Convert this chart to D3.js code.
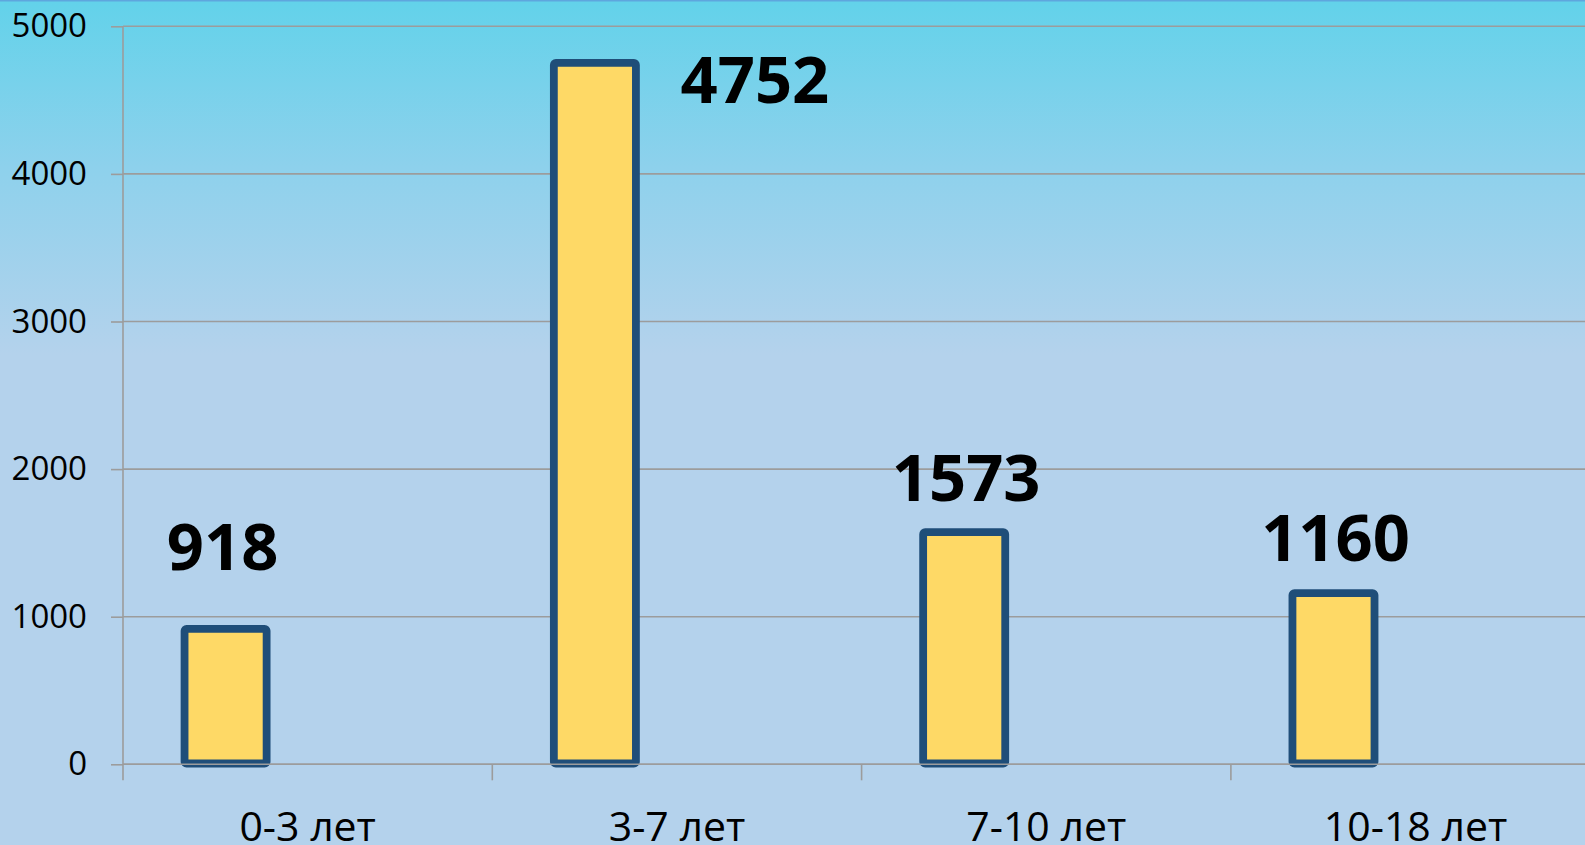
<!DOCTYPE html>
<html>
<head>
<meta charset="utf-8">
<script src="https://cdnjs.cloudflare.com/ajax/libs/d3/7.8.5/d3.min.js"></script>
<style>
  html, body { margin: 0; padding: 0; overflow: hidden; }
  svg { display: block; }
  .axis text { font-family: "Open Sans", sans-serif; fill: #000; }
  .axis path { display: none; }
</style>
</head>
<body>
<svg id="chart" width="1585" height="845"></svg>
<script>
// age groups and number of children
let categories = ["0-3 лет", "3-7 лет", "7-10 лет", "10-18 лет"];
let values = [918, 4752, 1573, 1160];
let yTicks = [0, 1000, 2000, 3000, 4000, 5000];

let W = 1585, H = 845;
let margin = {top: 26.3, left: 123},
    plotBottom = 764.3,
    bandW = 369.3;

let svg = d3.select("#chart");

// background gradient
let defs = svg.append("defs");
let grad = defs.append("linearGradient")
    .attr("id", "bg")
    .attr("x1", 0).attr("y1", 0)
    .attr("x2", 0).attr("y2", 1);
grad.append("stop").attr("offset", "0%").attr("stop-color", "#62d2ea");
grad.append("stop").attr("offset", "20%").attr("stop-color", "#8ed1ec");
grad.append("stop").attr("offset", "42%").attr("stop-color", "#b4d2ec");
grad.append("stop").attr("offset", "100%").attr("stop-color", "#b4d2ec");

svg.append("rect")
    .attr("width", W).attr("height", H)
    .attr("fill", "url(#bg)");
svg.append("rect")
    .attr("width", W).attr("height", 1.5)
    .attr("fill", "#5ea6de");

// scales
let xScale = d3.scaleBand()
    .domain(categories)
    .range([margin.left, margin.left + bandW * categories.length])
    .padding(0);

// three slots per category, only the first one is used
let inner = d3.scaleBand()
    .domain(["s1", "s2", "s3"])
    .range([0, xScale.bandwidth()])
    .paddingInner(0)
    .paddingOuter(0.75);

let yScale = d3.scaleLinear()
    .domain([0, 5000])
    .range([plotBottom, margin.top]);

// gridlines
svg.append("g")
    .selectAll("line")
    .data(yTicks)
    .join("line")
    .attr("x1", margin.left)
    .attr("x2", W)
    .attr("y1", d => yScale(d))
    .attr("y2", d => yScale(d))
    .attr("stroke", "#9c9c9c")
    .attr("stroke-width", 1.6);

// bars
svg.append("g")
    .selectAll("rect")
    .data(values)
    .join("rect")
    .attr("x", (d, i) => xScale(categories[i]) + inner("s1"))
    .attr("y", d => yScale(d))
    .attr("width", inner.bandwidth())
    .attr("height", d => plotBottom - yScale(d) - 0.8)
    .attr("rx", 2)
    .attr("fill", "#fed966")
    .attr("stroke", "#1f4e79")
    .attr("stroke-width", 7.8);

// y axis
let yAxis = svg.append("g")
    .attr("class", "axis axis-y")
    .attr("transform", "translate(" + margin.left + ",0)")
    .call(d3.axisLeft(yScale).tickValues(yTicks).tickSize(12).tickPadding(24).tickFormat(d3.format("d")));
yAxis.selectAll(".tick line").attr("stroke", "#9c9c9c").attr("stroke-width", 1.6);
yAxis.selectAll("text").style("font-size", "33px");

svg.append("line")
    .attr("x1", margin.left).attr("x2", margin.left)
    .attr("y1", margin.top).attr("y2", plotBottom + 16)
    .attr("stroke", "#9c9c9c")
    .attr("stroke-width", 1.6);

// baseline drawn over the bars
svg.append("line")
    .attr("x1", margin.left).attr("x2", W)
    .attr("y1", plotBottom).attr("y2", plotBottom)
    .attr("stroke", "#9c9c9c")
    .attr("stroke-width", 1.6);

// category separators
svg.append("g")
    .selectAll("line")
    .data(categories.slice(1))
    .join("line")
    .attr("x1", d => xScale(d))
    .attr("x2", d => xScale(d))
    .attr("y1", plotBottom)
    .attr("y2", plotBottom + 16)
    .attr("stroke", "#9c9c9c")
    .attr("stroke-width", 1.6);

// x axis labels
let xAxis = svg.append("g")
    .attr("class", "axis axis-x")
    .attr("transform", "translate(0," + plotBottom + ")")
    .call(d3.axisBottom(xScale).tickSize(0));
xAxis.selectAll("text")
    .style("font-size", "41px")
    .attr("y", 77)
    .attr("dy", 0);

// value labels (hand placed like the original)
let nudge = [[-3, -59], [160, 40], [2, -31], [2, -32]];
svg.append("g")
    .selectAll("text")
    .data(values)
    .join("text")
    .attr("x", (d, i) => xScale(categories[i]) + inner("s1") + inner.bandwidth() / 2 + nudge[i][0])
    .attr("y", (d, i) => yScale(d) + nudge[i][1])
    .attr("text-anchor", "middle")
    .style("font-family", "'Open Sans', sans-serif")
    .style("font-weight", "bold")
    .style("font-size", "65px")
    .attr("fill", "#000")
    .text(d => d);
</script>
</body>
</html>
